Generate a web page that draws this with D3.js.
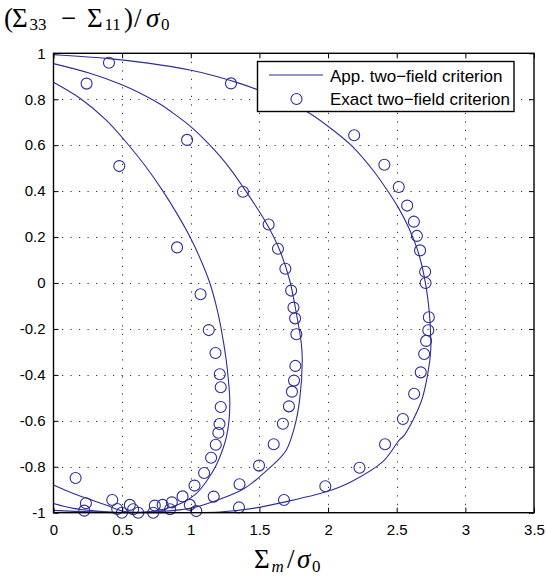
<!DOCTYPE html>
<html><head><meta charset="utf-8">
<script src="https://cdn.jsdelivr.net/npm/d3@7/dist/d3.min.js"></script>
<style>body{margin:0;background:#fff}svg{display:block}</style>
</head><body>
<svg id="chart" width="546" height="585"></svg>
<script>
// ---- data ----
const xTickValues = [0, 0.5, 1, 1.5, 2, 2.5, 3, 3.5];
const xTickLabels = ["0", "0.5", "1", "1.5", "2", "2.5", "3", "3.5"];
const yTickValues = [1, 0.8, 0.6, 0.4, 0.2, 0, -0.2, -0.4, -0.6, -0.8, -1];
const yTickLabels = ["1", "0.8", "0.6", "0.4", "0.2", "0", "-0.2", "-0.4", "-0.6", "-0.8", "-1"];
const legendLabels = ["App. two\u2212field criterion", "Exact two\u2212field criterion"];

// approximate criterion (lines)
const appInner = [
  [0, 0.874], [0.193, 0.804], [0.382, 0.710], [0.542, 0.604], [0.673, 0.506], [0.796, 0.401],
  [0.898, 0.303], [0.993, 0.202], [1.073, 0.100], [1.138, 0.001], [1.187, -0.103], [1.223, -0.205],
  [1.258, -0.335], [1.274, -0.422], [1.284, -0.509], [1.279, -0.596], [1.260, -0.669], [1.231, -0.727],
  [1.182, -0.797], [1.116, -0.862], [1.036, -0.919], [0.935, -0.958], [0.811, -0.984], [0.665, -0.997],
  [0.52, -0.995], [0.387, -0.968], [0.265, -0.942], [0.144, -0.916], [0, -0.879]
];
const appMiddle = [
  [0, 0.955], [0.265, 0.913], [0.484, 0.866], [0.629, 0.827], [0.775, 0.779], [0.884, 0.734],
  [0.993, 0.684], [1.102, 0.623], [1.211, 0.553], [1.298, 0.488], [1.385, 0.414], [1.473, 0.335],
  [1.551, 0.260], [1.647, 0.144], [1.72, 0.013], [1.769, -0.132], [1.805, -0.263], [1.812, -0.335],
  [1.793, -0.509], [1.756, -0.626], [1.696, -0.727], [1.623, -0.778], [1.502, -0.843], [1.429, -0.879],
  [1.356, -0.906], [1.162, -0.952], [0.993, -0.981], [0.775, -0.995], [0.556, -0.999], [0.387, -0.996],
  [0.144, -0.981], [0, -0.960]
];
const appOuter = [
  [0, 0.994], [0.387, 0.978], [0.702, 0.956], [0.993, 0.927], [1.175, 0.901], [1.356, 0.869],
  [1.502, 0.838], [1.684, 0.795], [1.865, 0.739], [2.035, 0.666], [2.18, 0.593], [2.326, 0.492],
  [2.425, 0.409], [2.513, 0.327], [2.585, 0.244], [2.644, 0.157], [2.684, 0.074], [2.714, -0.017],
  [2.736, -0.118], [2.747, -0.226], [2.748, -0.292], [2.727, -0.393], [2.678, -0.517], [2.556, -0.662],
  [2.52, -0.683], [2.399, -0.778], [2.169, -0.865], [1.987, -0.909], [1.67, -0.955], [1.453, -0.981],
  [1.211, -0.997], [0.92, -0.999], [0.484, -1.0], [0, -0.990]
];

// exact criterion (circles)
const exactInner = [
  [0.479, 0.509], [0.90, 0.155], [1.071, -0.049], [1.131, -0.205], [1.18, -0.305], [1.211, -0.397],
  [1.218, -0.454], [1.218, -0.540], [1.209, -0.614], [1.201, -0.652], [1.182, -0.704], [1.148, -0.761],
  [1.097, -0.827], [1.027, -0.882], [0.94, -0.929], [0.862, -0.955], [0.795, -0.966], [0.738, -0.969],
  [0.556, -0.966], [0.428, -0.945], [0.161, -0.849]
];
const exactMiddle = [
  [0.241, 0.868], [0.973, 0.623], [1.38, 0.397], [1.567, 0.255], [1.635, 0.149], [1.689, 0.062],
  [1.731, -0.033], [1.748, -0.107], [1.76, -0.154], [1.769, -0.223], [1.762, -0.361], [1.752, -0.425],
  [1.737, -0.473], [1.715, -0.537], [1.671, -0.613], [1.604, -0.702], [1.497, -0.795], [1.355, -0.876],
  [1.167, -0.930], [0.993, -0.966], [0.849, -0.985], [0.726, -1.0], [0.58, -0.985], [0.498, -1.0],
  [0.464, -0.984], [0.236, -0.959]
];
const exactOuter = [
  [0.404, 0.959], [1.293, 0.869], [2.19, 0.643], [2.41, 0.515], [2.515, 0.418], [2.576, 0.337],
  [2.625, 0.267], [2.647, 0.205], [2.67, 0.142], [2.707, 0.049], [2.71, 0.0], [2.734, -0.149],
  [2.73, -0.206], [2.714, -0.252], [2.70, -0.309], [2.675, -0.389], [2.627, -0.482], [2.545, -0.592],
  [2.415, -0.702], [2.229, -0.804], [1.98, -0.885], [1.679, -0.945], [1.351, -0.977], [1.04, -0.993],
  [0.617, -1.0], [0.224, -0.991]
];

// ---- drawing ----
const color = "#2e2e98";
const L = 53.5, R = 534, T = 53.3, B = 512.7;
const svg = d3.select("#chart");
const x = d3.scaleLinear().domain([0, 3.5]).range([L, R]);
const y = d3.scaleLinear().domain([-1, 1]).range([B, T]);

// grid
const grid = svg.append("g").attr("stroke", "#333").attr("stroke-width", 1)
  .attr("stroke-dasharray", "1.2,7.3");
grid.selectAll("line.v").data(xTickValues.slice(1, -1)).join("line")
  .attr("x1", d => Math.round(x(d)) + 0.5).attr("x2", d => Math.round(x(d)) + 0.5)
  .attr("y1", T).attr("y2", B);
grid.selectAll("line.h").data(yTickValues.slice(1, -1)).join("line")
  .attr("y1", d => Math.round(y(d)) + 0.5).attr("y2", d => Math.round(y(d)) + 0.5)
  .attr("x1", L).attr("x2", R);

// lines
const line = d3.line().x(d => x(d[0])).y(d => y(d[1])).curve(d3.curveCatmullRom.alpha(0.5));
[appInner, appMiddle, appOuter].forEach(s => {
  svg.append("path").datum(s).attr("d", line)
    .attr("fill", "none").attr("stroke", color).attr("stroke-width", 1.1);
});

// circles
[exactInner, exactMiddle, exactOuter].forEach(s => {
  svg.append("g").selectAll("circle").data(s).join("circle")
    .attr("cx", d => x(d[0])).attr("cy", d => y(d[1])).attr("r", 5.5)
    .attr("fill", "none").attr("stroke", color).attr("stroke-width", 1.1);
});

// axes
const fmtX = d => xTickLabels[xTickValues.indexOf(d)];
const fmtY = d => yTickLabels[yTickValues.indexOf(d)];
const axB = svg.append("g").attr("transform", `translate(0,${B})`)
  .call(d3.axisBottom(x).tickValues(xTickValues).tickSize(-5).tickPadding(12).tickFormat(fmtX));
const axL = svg.append("g").attr("transform", `translate(${L},0)`)
  .call(d3.axisLeft(y).tickValues(yTickValues).tickSize(-5).tickPadding(8).tickFormat(fmtY));
const axT = svg.append("g").attr("transform", `translate(0,${T})`)
  .call(d3.axisTop(x).tickValues(xTickValues).tickSize(-5).tickFormat(""));
const axR = svg.append("g").attr("transform", `translate(${R},0)`)
  .call(d3.axisRight(y).tickValues(yTickValues).tickSize(-5).tickFormat(""));
[axB, axL, axT, axR].forEach(a => {
  a.select(".domain").remove();
  a.selectAll(".tick line").attr("stroke", "#000").attr("stroke-width", 1);
  a.selectAll("text").attr("font-family", "'Liberation Sans', Arial, sans-serif")
    .attr("font-size", 15).attr("fill", "#000");
});
svg.append("rect").attr("x", L).attr("y", T).attr("width", R - L).attr("height", B - T)
  .attr("fill", "none").attr("stroke", "#000").attr("stroke-width", 1.4);

// legend
const lg = svg.append("g");
lg.append("rect").attr("x", 257.5).attr("y", 61.5).attr("width", 256.5).attr("height", 50)
  .attr("fill", "#fff").attr("stroke", "#000").attr("stroke-width", 1.4);
lg.append("line").attr("x1", 269).attr("x2", 323).attr("y1", 75).attr("y2", 75)
  .attr("stroke", color).attr("stroke-width", 1.1);
lg.append("circle").attr("cx", 296.5).attr("cy", 99).attr("r", 5.5)
  .attr("fill", "none").attr("stroke", color).attr("stroke-width", 1.1);
lg.selectAll("text").data(legendLabels).join("text")
  .attr("x", 330).attr("y", (d, i) => 81.5 + i * 23)
  .attr("font-family", "'Liberation Sans', Arial, sans-serif").attr("font-size", 17)
  .attr("fill", "#000").text(d => d);

// axis titles (math-style, pieces placed individually)
const serif = "'Liberation Serif', 'DejaVu Serif', serif";
function mathLabel(pieces, baseY) {
  const t = svg.append("text").attr("font-family", serif).attr("fill", "#000");
  pieces.forEach(p => {
    t.append("tspan").attr("x", p[1]).attr("y", baseY + (p[2] ? 3.5 : 0))
      .attr("font-size", p[2] ? 17 : 27)
      .attr("font-style", p[3] ? "italic" : "normal").text(p[0]);
  });
}
// [text, x, isSubscript, isItalic]
mathLabel([
  ["(", 4, 0, 0], ["\u03A3", 12, 0, 0], ["33", 29.5, 1, 0], ["\u2212", 61, 0, 0],
  ["\u03A3", 87, 0, 0], ["11", 104.5, 1, 0], [")", 124, 0, 0], ["/", 134, 0, 0],
  ["\u03C3", 146, 0, 1], ["0", 161, 1, 0]
], 26.5);
mathLabel([
  ["\u03A3", 254, 0, 0], ["m", 271.5, 1, 1], ["/", 287, 0, 0],
  ["\u03C3", 297, 0, 1], ["0", 312, 1, 0]
], 568);
</script>
</body></html>
